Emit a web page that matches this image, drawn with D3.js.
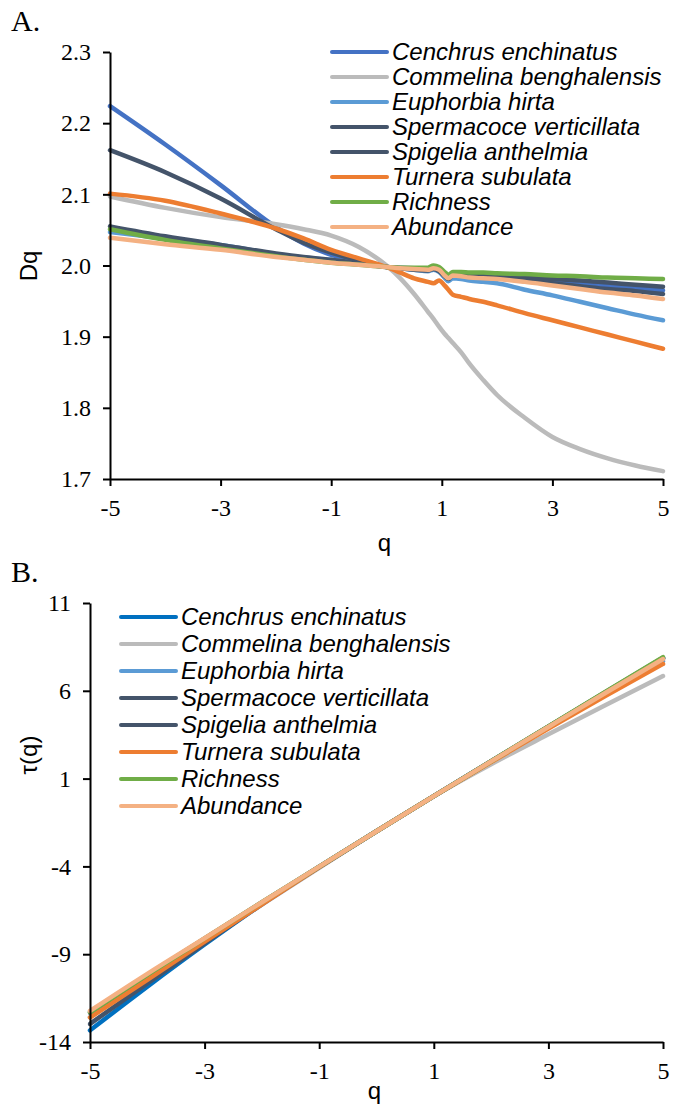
<!DOCTYPE html>
<html>
<head>
<meta charset="utf-8">
<script src="https://cdn.jsdelivr.net/npm/d3@7"></script>
<style>
  body { margin: 0; background: #fff; }
  .tick text, .serif { font-family: "Liberation Serif", "Times New Roman", serif; font-size: 24px; fill: #000; }
  .sans { font-family: "Liberation Sans", Arial, sans-serif; fill: #000; }
  .domain, .tick line { stroke: #000; stroke-width: 2px; }
</style>
</head>
<body>
<div id="chart"></div>
<script>
const W = 684, H = 1106

// legend names, in drawing order
const species = ["Cenchrus enchinatus", "Commelina benghalensis", "Euphorbia hirta",
  "Spermacoce verticillata", "Spigelia anthelmia", "Turnera subulata", "Richness", "Abundance"]
const colorsA = ["#4472C4", "#BBBBBB", "#5B9BD5", "#44546A", "#44546A", "#ED7D31", "#70AD47", "#F4B183"]
const colorsB = ["#0070C0", "#BBBBBB", "#5B9BD5", "#44546A", "#44546A", "#ED7D31", "#70AD47", "#F4B183"]

// panel A: generalized dimension Dq
const qA = [-5, -4, -3, -2, -1.5, -1, -0.5, 0, 0.25, 0.5, 0.75, 0.85, 0.95, 1.05, 1.12, 1.2, 1.35, 1.5, 1.75, 2, 2.5, 3, 3.5, 4, 4.5, 5]
const dqCenchrus   = [2.224,2.170,2.113,2.054,2.031,2.015,2.006,1.998,1.996,1.994,1.993,1.995,1.992,1.985,1.981,1.987,1.987,1.986,1.985,1.984,1.981,1.978,1.975,1.971,1.968,1.965]
const dqCommelina  = [2.097,2.081,2.068,2.058,2.051,2.042,2.026,2.000,1.982,1.960,1.935,1.925,1.914,1.904,1.898,1.891,1.878,1.862,1.839,1.818,1.786,1.759,1.742,1.729,1.719,1.711]
const dqEuphorbia  = [2.047,2.038,2.029,2.016,2.011,2.008,2.003,1.998,1.996,1.994,1.992,1.994,1.991,1.983,1.978,1.982,1.981,1.979,1.977,1.975,1.966,1.958,1.949,1.940,1.931,1.923]
const dqSpermacoce = [2.162,2.131,2.094,2.051,2.032,2.018,2.007,1.998,1.996,1.994,1.993,1.995,1.992,1.985,1.981,1.987,1.987,1.986,1.984,1.982,1.979,1.975,1.971,1.967,1.964,1.960]
const dqSpigelia   = [2.055,2.041,2.029,2.017,2.012,2.008,2.003,1.998,1.997,1.996,1.995,1.997,1.994,1.987,1.983,1.989,1.990,1.989,1.988,1.987,1.984,1.981,1.979,1.976,1.973,1.970]
const dqTurnera    = [2.101,2.091,2.073,2.052,2.038,2.022,2.010,1.998,1.990,1.982,1.977,1.975,1.979,1.972,1.966,1.959,1.956,1.953,1.949,1.944,1.933,1.923,1.913,1.903,1.893,1.883]
const dqRichness   = [2.051,2.036,2.024,2.013,2.008,2.004,2.001,1.998,1.997,1.997,1.997,2.000,1.998,1.991,1.987,1.991,1.991,1.990,1.990,1.989,1.988,1.986,1.985,1.983,1.982,1.981]
const dqAbundance  = [2.039,2.030,2.022,2.012,2.008,2.004,2.001,1.998,1.996,1.995,1.994,1.996,1.994,1.986,1.982,1.986,1.985,1.983,1.982,1.981,1.977,1.972,1.967,1.962,1.958,1.953]

// panel B: mass exponent tau(q)
const qB = [-5, -4, -3, -2, -1, 0, 1, 2, 3, 4, 5]
const tauCenchrus   = [-13.34,-10.85,-8.45,-6.16,-4.03,-2.0,0,1.98,3.96,5.91,7.86]
const tauCommelina  = [-12.58,-10.41,-8.27,-6.17,-4.08,-2.0,0,1.82,3.52,5.19,6.84]
const tauEuphorbia  = [-12.28,-10.19,-8.12,-6.05,-4.02,-2.0,0,1.98,3.92,5.82,7.69]
const tauSpermacoce = [-12.97,-10.66,-8.38,-6.15,-4.04,-2.0,0,1.98,3.95,5.90,7.84]
const tauSpigelia   = [-12.33,-10.21,-8.12,-6.05,-4.02,-2.0,0,1.99,3.96,5.93,7.88]
const tauTurnera    = [-12.61,-10.46,-8.29,-6.16,-4.04,-2.0,0,1.94,3.85,5.71,7.53]
const tauRichness   = [-12.31,-10.18,-8.10,-6.04,-4.01,-2.0,0,1.99,3.97,5.95,7.92]
const tauAbundance  = [-12.23,-10.12,-8.09,-6.04,-4.01,-2.0,0,1.98,3.94,5.89,7.81]

const xTicks = [-5, -3, -1, 1, 3, 5]
const yTicksA = [1.7, 1.8, 1.9, 2.0, 2.1, 2.2, 2.3]
const yTicksB = [-14, -9, -4, 1, 6, 11]

const dqSeries = [dqCenchrus, dqCommelina, dqEuphorbia, dqSpermacoce, dqSpigelia, dqTurnera, dqRichness, dqAbundance]
const tauSeries = [tauCenchrus, tauCommelina, tauEuphorbia, tauSpermacoce, tauSpigelia, tauTurnera, tauRichness, tauAbundance]

// plain hyphen for negatives, like the original
const hyphen = f => d => f(d).replace("\u2212", "-")

const svg = d3.select("#chart").append("svg")
    .attr("width", W)
    .attr("height", H)

const drawPanel = (opt) => {
    const xScale = d3.scaleLinear().domain([-5, 5]).range([opt.left, opt.right])
    const yScale = d3.scaleLinear().domain(opt.yDomain).range([opt.bottom, opt.top])

    const g = svg.append("g")

    const xAxis = d3.axisBottom(xScale)
        .tickValues(xTicks)
        .tickFormat(hyphen(d3.format("d")))
        .tickSizeInner(7)
        .tickSizeOuter(0)
        .tickPadding(13)
    const yAxis = d3.axisLeft(yScale)
        .tickValues(opt.yTicks)
        .tickFormat(hyphen(opt.yFormat))
        .tickSizeInner(7)
        .tickSizeOuter(0)
        .tickPadding(opt.yPad)

    const lineGen = d3.line()
        .x(d => xScale(d[0]))
        .y(d => yScale(d[1]))
        .curve(d3.curveMonotoneX)

    opt.series.forEach((vals, i) => {
        g.append("path")
            .datum(opt.q.map((q, j) => [q, vals[j]]))
            .attr("d", lineGen)
            .attr("fill", "none")
            .attr("stroke", opt.colors[i])
            .attr("stroke-width", 4.5)
            .attr("stroke-linejoin", "round")
            .attr("stroke-linecap", "round")
    })

    g.append("g")
        .attr("transform", `translate(0,${opt.bottom})`)
        .call(xAxis)
    g.append("g")
        .attr("transform", `translate(${opt.left},0)`)
        .call(yAxis)

    // axis titles
    g.append("text")
        .attr("class", "sans")
        .attr("x", xScale(0) - 2)
        .attr("y", opt.qTitleY)
        .attr("text-anchor", "middle")
        .style("font-size", "24px")
        .text("q")
    g.append("text")
        .attr("class", "sans")
        .attr("transform", `translate(37,${opt.yTitleY}) rotate(-90)`)
        .attr("text-anchor", "middle")
        .style("font-size", "24px")
        .text(opt.yTitle)

    // panel letter
    g.append("text")
        .attr("class", "serif")
        .attr("x", 11)
        .attr("y", opt.labelY)
        .style("font-size", "30px")
        .text(opt.label)

    // legend
    const legend = g.selectAll(".legend")
        .data(species)
        .enter()
        .append("g")
        .attr("transform", (d, i) => `translate(${opt.legX},${opt.legY + i * opt.legStep})`)
    legend.append("line")
        .attr("x1", 0)
        .attr("x2", 55)
        .attr("stroke", (d, i) => opt.colors[i])
        .attr("stroke-width", 4)
        .attr("stroke-linecap", "round")
    legend.append("text")
        .attr("class", "sans")
        .attr("x", 60)
        .attr("dy", "0.35em")
        .style("font-style", "italic")
        .style("font-size", "24px")
        .text(d => d)
}

drawPanel({
    left: 110, right: 663, top: 52, bottom: 479,
    yDomain: [1.7, 2.3], yTicks: yTicksA, yFormat: d3.format(".1f"), yPad: 12,
    q: qA, series: dqSeries, colors: colorsA,
    qTitleY: 551, yTitleY: 266, yTitle: "Dq",
    label: "A.", labelY: 31,
    legX: 332, legY: 52, legStep: 25
})

drawPanel({
    left: 90, right: 663, top: 603, bottom: 1042,
    yDomain: [-14, 11], yTicks: yTicksB, yFormat: d3.format("d"), yPad: 12,
    q: qB, series: tauSeries, colors: colorsB,
    qTitleY: 1099, yTitleY: 755, yTitle: "τ(q)",
    label: "B.", labelY: 582,
    legX: 121, legY: 617, legStep: 27
})
</script>
</body>
</html>
